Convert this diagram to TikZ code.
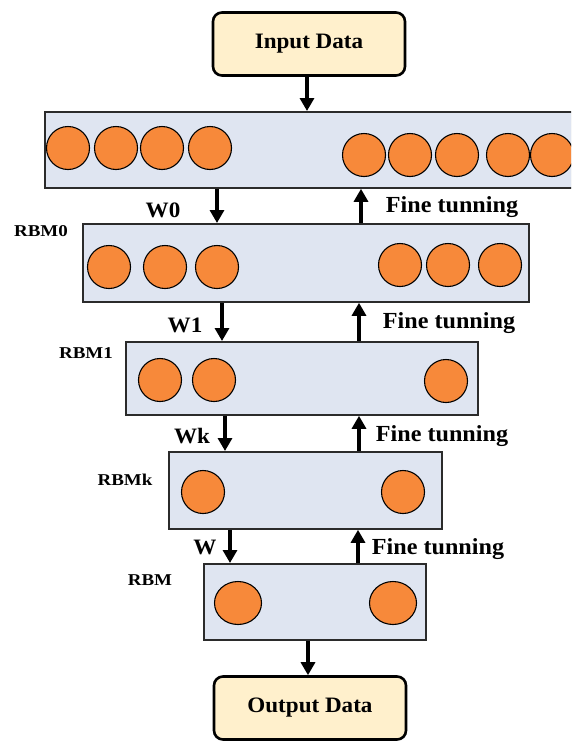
\documentclass[tikz,border=0pt]{standalone}
\usepackage{fontspec}
\setmainfont{Liberation Serif}
\newfontfamily\widefont[FakeStretch=1.05]{Liberation Serif}
\newfontfamily\rbmfont[FakeStretch=1.15]{Liberation Serif}
\usetikzlibrary{arrows.meta,shadows,shapes.geometric}
\definecolor{boxfill}{HTML}{DFE5F1}
\definecolor{datafill}{HTML}{FFF0CC}
\definecolor{neuron}{HTML}{F7893A}
\definecolor{edge}{HTML}{2B2B2B}
\tikzset{
  layer/.style={draw=edge, line width=1.8pt, fill=boxfill, inner sep=0pt,
    drop shadow={shadow xshift=1.5pt, shadow yshift=-1.5pt, opacity=0.35}},
  databox/.style={draw=black, line width=2.6pt, fill=datafill, rounded corners=9pt,
    inner sep=0pt, minimum width=192pt, minimum height=63pt,
    font=\widefont\bfseries\fontsize{22}{24}\selectfont},
  neur/.style={circle, draw=black, line width=1.1pt, fill=neuron, inner sep=0pt,
    minimum size=43pt},
  conn/.style={line width=3.2pt, -{Triangle[length=13pt,width=14pt]}},
  wlab/.style={font=\widefont\bfseries\fontsize{22}{24}\selectfont},
  ftlab/.style={font=\widefont\bfseries\fontsize{23}{25}\selectfont},
  rlab/.style={font=\rbmfont\bfseries\fontsize{16.5}{18}\selectfont},
}
\begin{document}
\begin{tikzpicture}[x=1pt,y=-1pt]
\clip (0,0) rectangle (571,742);
\fill[white] (0,0) rectangle (571,742);
% data boxes
\node[databox] (in) at (309,44) {Input Data};
\node[databox] (out) at (310,708) {Output Data};
% layers
\node[layer, minimum width=560pt, minimum height=76pt, anchor=north west] (L0) at (44,111) {};
\node[layer, minimum width=446pt, minimum height=78pt, anchor=north west] (L1) at (82,223) {};
\node[layer, minimum width=352pt, minimum height=73pt, anchor=north west] (L2) at (125,341) {};
\node[layer, minimum width=273pt, minimum height=77pt, anchor=north west] (L3) at (168,451) {};
\node[layer, minimum width=222pt, minimum height=76pt, anchor=north west] (L4) at (203,563) {};
% neurons
\foreach \x/\n in {68/a,116/b,162/c,210/d} \node[neur] (n0\n) at (\x,148) {};
\foreach \x/\n in {364/e,410/f,457/g,508/h,552/i} \node[neur] (n0\n) at (\x,155) {};
\foreach \x/\n in {109/a,165/b,217/c} \node[neur] (n1\n) at (\x,267) {};
\foreach \x/\n in {400/d,448/e,500/f} \node[neur] (n1\n) at (\x,265) {};
\node[neur] (n2a) at (160,380) {};
\node[neur] (n2b) at (214,380) {};
\node[neur] (n2c) at (446,381) {};
\node[neur] (n3a) at (203,492) {};
\node[neur] (n3b) at (403,492) {};
\node[neur, ellipse, minimum width=47pt, minimum height=43pt] (n4a) at (238,603) {};
\node[neur, ellipse, minimum width=47pt, minimum height=43pt] (n4b) at (393,603) {};
% arrows
\draw[conn] (in.south -| 307,0) -- (L0.north -| 307,0);
\draw[conn] (L0.south -| 217,0) -- (L1.north -| 217,0);
\draw[conn] (L1.north -| 361,0) -- (L0.south -| 361,0);
\draw[conn] (L1.south -| 222,0) -- (L2.north -| 222,0);
\draw[conn] (L2.north -| 359,0) -- (L1.south -| 359,0);
\draw[conn] (L2.south -| 225,0) -- (L3.north -| 225,0);
\draw[conn] (L3.north -| 359,0) -- (L2.south -| 359,0);
\draw[conn] (L3.south -| 230,0) -- (L4.north -| 230,0);
\draw[conn] (L4.north -| 358,0) -- (L3.south -| 358,0);
\draw[conn] (L4.south -| 308,0) -- (out.north -| 308,0);
% labels
\node[wlab] (w0) at (163,210) {W0};
\node[wlab] (w1) at (185,325) {W1};
\node[wlab] (wk) at (192,436) {Wk};
\node[wlab] (w) at (205,547) {W};
\node[ftlab] (f0) at (452,207) {Fine tunning};
\node[ftlab] (f1) at (449,323) {Fine tunning};
\node[ftlab] (f2) at (442,436) {Fine tunning};
\node[ftlab] (f3) at (438,549) {Fine tunning};
\node[rlab] (r0) at (41,231) {RBM0};
\node[rlab] (r1) at (86,353) {RBM1};
\node[rlab] (rk) at (125,480) {RBMk};
\node[rlab] (r) at (150,580) {RBM};
\end{tikzpicture}
\end{document}
